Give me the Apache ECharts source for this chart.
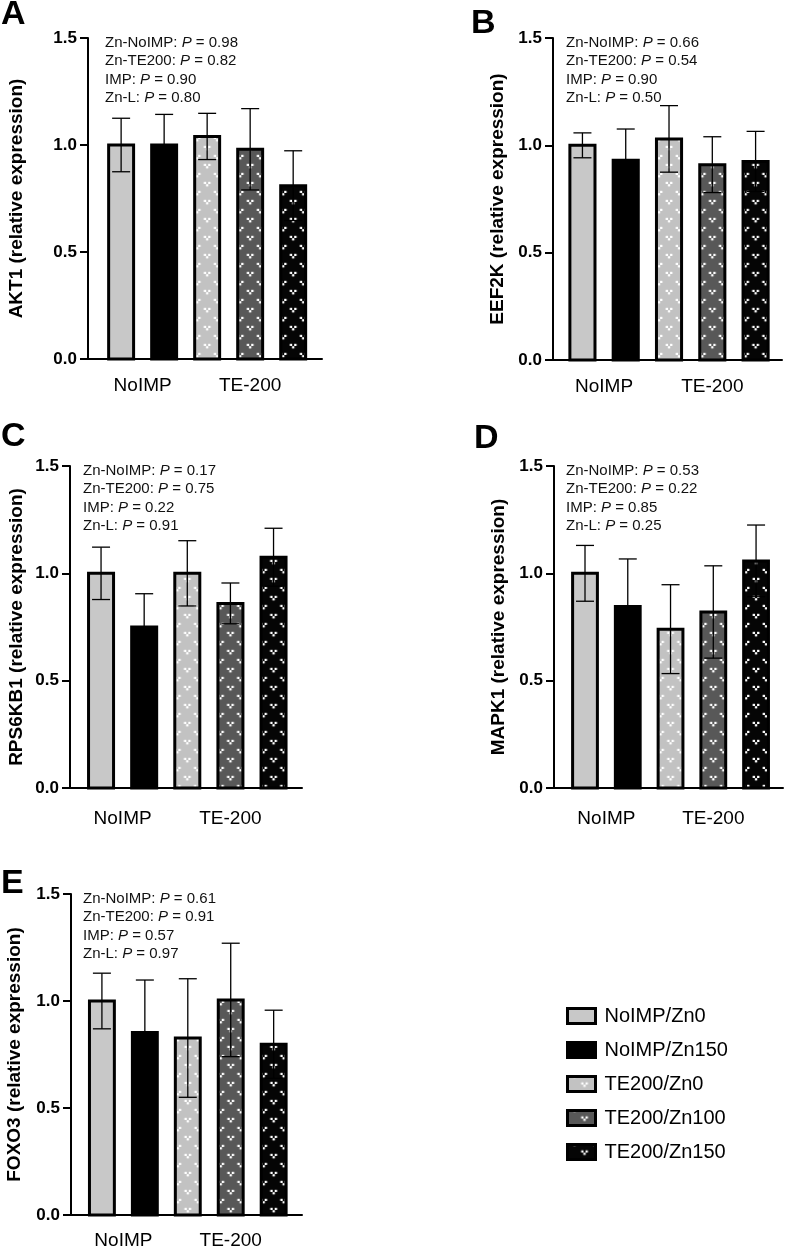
<!DOCTYPE html>
<html><head><meta charset="utf-8">
<script src="https://cdn.jsdelivr.net/npm/echarts@6/dist/echarts.min.js"></script>
<style>html,body{margin:0;padding:0;background:#fff}#c{width:786px;height:1250px}</style>
</head><body><div id="c"></div>
<script>
// ---------- data ----------
const groups = ['NoIMP/Zn0', 'NoIMP/Zn150', 'TE200/Zn0', 'TE200/Zn100', 'TE200/Zn150'];
const treatmentLabels = ['NoIMP', 'TE-200'];
const treatmentPositions = [0.5, 3];
const genes = ['AKT1', 'EEF2K', 'RPS6KB1', 'MAPK1', 'FOXO3'];
const panelLetters = ['A', 'B', 'C', 'D', 'E'];
const pNames = ['Zn-NoIMP', 'Zn-TE200', 'IMP', 'Zn-L'];

const meanAKT1 = [1.00, 1.00, 1.04, 0.98, 0.81];
const errAKT1 = [0.125, 0.143, 0.108, 0.19, 0.163];
const meanEEF2K = [1.00, 0.93, 1.03, 0.91, 0.925];
const errEEF2K = [0.058, 0.146, 0.155, 0.13, 0.14];
const meanRPS6KB1 = [1.00, 0.75, 1.00, 0.86, 1.075];
const errRPS6KB1 = [0.122, 0.155, 0.152, 0.095, 0.135];
const meanMAPK1 = [1.00, 0.845, 0.74, 0.82, 1.058];
const errMAPK1 = [0.13, 0.222, 0.207, 0.215, 0.167];
const meanFOXO3 = [1.00, 0.853, 0.827, 1.005, 0.798];
const errFOXO3 = [0.13, 0.245, 0.277, 0.265, 0.159];

const pAKT1 = ['0.98', '0.82', '0.90', '0.80'];
const pEEF2K = ['0.66', '0.54', '0.90', '0.50'];
const pRPS6KB1 = ['0.17', '0.75', '0.22', '0.91'];
const pMAPK1 = ['0.53', '0.22', '0.85', '0.25'];
const pFOXO3 = ['0.61', '0.91', '0.57', '0.97'];

const means = [meanAKT1, meanEEF2K, meanRPS6KB1, meanMAPK1, meanFOXO3];
const errs = [errAKT1, errEEF2K, errRPS6KB1, errMAPK1, errFOXO3];
const pVals = [pAKT1, pEEF2K, pRPS6KB1, pMAPK1, pFOXO3];

// ---------- layout ----------
const FONT = '"Liberation Sans", Arial, Helvetica, sans-serif';
const panels = [
  {left: 88,  top: 38,  width: 234, height: 321, xmin: -0.77, xmax: 4.67, nameGap: 62, labMargin: 17, px: 105, py: 35,  lx: 1,   ly: -2},
  {left: 553, top: 38,  width: 229, height: 322, xmin: -0.68, xmax: 4.61, nameGap: 46, labMargin: 17, px: 566, py: 35,  lx: 471, ly: 7},
  {left: 70,  top: 466, width: 232, height: 322, xmin: -0.72, xmax: 4.66, nameGap: 44, labMargin: 21, px: 83,  py: 463, lx: 1,   ly: 420},
  {left: 554, top: 466, width: 229, height: 322, xmin: -0.725, xmax: 4.63, nameGap: 46, labMargin: 21, px: 566, py: 463, lx: 474, ly: 422},
  {left: 71,  top: 894, width: 231, height: 323, xmin: -0.72, xmax: 4.66, nameGap: 47, labMargin: 16, px: 83,  py: 891, lx: 1,   ly: 867}
];

// ---------- patterns ----------
function makeTile(bg) {
  const c = document.createElement('canvas');
  c.width = 20; c.height = 18;
  const g = c.getContext('2d');
  g.fillStyle = bg; g.fillRect(0, 0, 20, 18);
  g.fillStyle = '#ffffff';
  function vee(cx, cy) {
    g.fillRect(cx - 3.4, cy - 2.2, 2.4, 2.2);
    g.fillRect(cx + 1, cy - 2.2, 2.4, 2.2);
    g.fillRect(cx - 1.2, cy + 0.2, 2.4, 2.2);
  }
  vee(10, 4); vee(0, 13); vee(20, 13);
  return c;
}
const tiles = [null, null, makeTile('#c2c2c2'), makeTile('#585858'), makeTile('#050505')];
const solid = ['#c8c8c8', '#000000', '#c2c2c2', '#585858', '#050505'];
function fillFor(gi, cx, oy) {
  if (!tiles[gi]) return solid[gi];
  return {image: tiles[gi], repeat: 'repeat', x: cx - 10, y: oy || 0};
}

function makeRender(gi) {
  return function (params, api) {
    const x = api.value(0), m = api.value(1), e = api.value(2);
    const base = api.coord([x, 0]);
    const top = api.coord([x, m]);
    const hi = api.coord([x, m + e]);
    const lo = api.coord([x, m - e]);
    const w = api.size([1, 0])[0] * 0.58;
    const cx = base[0];
    const cap = 9;
    const ls = {stroke: '#000', lineWidth: 1.3};
    return {
      type: 'group',
      children: [
        {type: 'rect', shape: {x: cx - w / 2, y: top[1], width: w, height: base[1] - top[1]},
         style: {fill: fillFor(gi, cx), stroke: '#000', lineWidth: 3}},
        {type: 'line', shape: {x1: cx, y1: hi[1], x2: cx, y2: lo[1]}, style: ls},
        {type: 'line', shape: {x1: cx - cap, y1: hi[1], x2: cx + cap, y2: hi[1]}, style: ls},
        {type: 'line', shape: {x1: cx - cap, y1: lo[1], x2: cx + cap, y2: lo[1]}, style: ls}
      ]
    };
  };
}

const grid = [], xAxis = [], yAxis = [], series = [], graphic = [];
panels.forEach(function (p, k) {
  grid.push({left: p.left, top: p.top, width: p.width, height: p.height, containLabel: false});
  xAxis.push({
    gridIndex: k, type: 'value', min: p.xmin, max: p.xmax,
    axisLine: {show: true, onZero: false, lineStyle: {color: '#000', width: 2}},
    axisTick: {show: false}, splitLine: {show: false},
    axisLabel: {
      customValues: treatmentPositions, margin: p.labMargin,
      formatter: function (v) { return v < 1.5 ? treatmentLabels[0] : treatmentLabels[1]; },
      color: '#000', fontSize: 19, fontFamily: FONT
    }
  });
  yAxis.push({
    gridIndex: k, type: 'value', min: 0, max: 1.5, interval: 0.5,
    name: genes[k] + ' (relative expression)', nameLocation: 'middle', nameGap: p.nameGap,
    nameTextStyle: {fontWeight: 'bold', fontSize: 19, color: '#000', fontFamily: FONT},
    axisLine: {show: true, onZero: false, lineStyle: {color: '#000', width: 2}},
    axisTick: {show: true, length: 8, lineStyle: {color: '#000', width: 2}},
    splitLine: {show: false},
    axisLabel: {formatter: function (v) { return v.toFixed(1); }, margin: 11,
      color: '#000', fontWeight: 'bold', fontSize: 17, fontFamily: FONT}
  });
  groups.forEach(function (g, gi) {
    series.push({
      type: 'custom', name: g, xAxisIndex: k, yAxisIndex: k,
      itemStyle: {color: solid[gi]},
      renderItem: makeRender(gi),
      data: [[gi, means[k][gi], errs[k][gi]]],
      encode: {x: 0, y: 1}, clip: false
    });
  });
  const lines = pNames.map(function (n, j) { return '{n|' + n + ': }{i|P}{n| = ' + pVals[k][j] + '}'; });
  graphic.push({
    type: 'text', left: p.px, top: p.py,
    style: {text: lines.join('\n'), fill: '#111',
      rich: {n: {fontSize: 15, fontFamily: FONT, fill: '#111', lineHeight: 18.5},
             i: {fontSize: 15, fontFamily: FONT, fontStyle: 'italic', fill: '#111', lineHeight: 18.5}}}
  });
  graphic.push({
    type: 'text', left: p.lx, top: p.ly,
    style: {text: panelLetters[k], font: 'bold 34px ' + FONT, fill: '#000'}
  });
});

const legendData = groups.map(function (g, gi) {
  return {name: g, itemStyle: {color: fillFor(gi, 577, 4), borderColor: '#000', borderWidth: 3}};
});

const chart = echarts.init(document.getElementById('c'), null, {renderer: 'canvas'});
chart.setOption({
  animation: false,
  backgroundColor: '#fff',
  grid: grid, xAxis: xAxis, yAxis: yAxis, series: series, graphic: graphic,
  legend: {
    orient: 'vertical', left: 561, top: 1001, icon: 'rect',
    itemWidth: 28, itemHeight: 15, itemGap: 14, selectedMode: false,
    textStyle: {fontSize: 20, color: '#000', fontFamily: FONT, padding: [0, 0, 0, 4]},
    data: legendData
  }
});
</script></body></html>
